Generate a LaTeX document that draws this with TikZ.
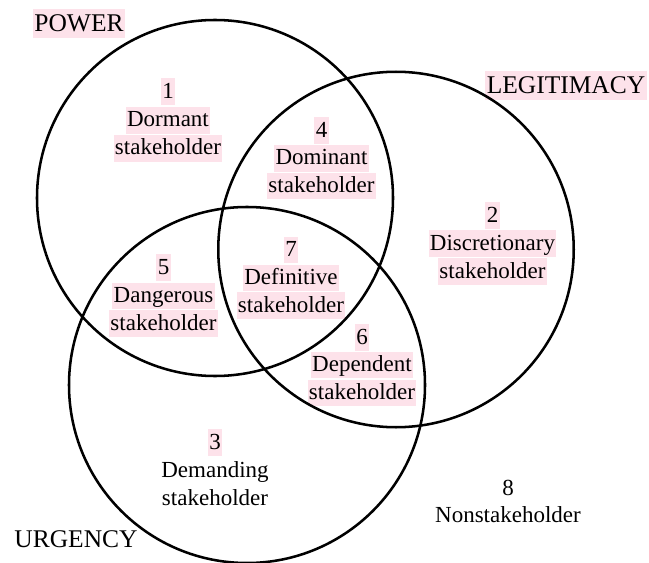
\documentclass[tikz,border=0pt]{standalone}
\usepackage{fontspec}
\setmainfont{Liberation Serif}
\definecolor{pinkbg}{RGB}{253,226,234}
\tikzset{
  bodytxt/.style={font=\fontsize{17.25}{21}\selectfont, anchor=base, inner sep=0pt, inner xsep=1pt},
  hl/.style={bodytxt, fill=pinkbg, text height=15pt, text depth=4.9pt},
  bigtxt/.style={font=\fontsize{19.1}{23}\selectfont, anchor=base, inner sep=0pt, inner xsep=1pt},
  bighl/.style={bigtxt, fill=pinkbg, text height=16.5pt, text depth=5pt},
  ring/.style={draw=black, line width=1.9pt}
}
\begin{document}
\begin{tikzpicture}[x=0.75pt, y=-0.75pt]
\useasboundingbox (0,0) rectangle (649,563);
% text first (circles drawn over)
\node[bighl] (power) at (79,31.5) {POWER};
\node[bighl] (legit) at (566,93.5) {LEGITIMACY};
\node[bigtxt] (urg) at (76,547.5) {URGENCY};

\node[hl] (n1a) at (168,98.5) {1};
\node[hl] (n1b) at (168,127) {Dormant};
\node[hl] (n1c) at (168,155) {stakeholder};

\node[hl] (n4a) at (321.5,137.5) {4};
\node[hl] (n4b) at (321.5,165) {Dominant};
\node[hl] (n4c) at (321.5,192.5) {stakeholder};

\node[hl] (n2a) at (492.5,222) {2};
\node[hl] (n2b) at (492.5,250) {Discretionary};
\node[hl] (n2c) at (492.5,278) {stakeholder};

\node[hl] (n7a) at (291,256.5) {7};
\node[hl] (n7b) at (291,284.5) {Definitive};
\node[hl] (n7c) at (291,312) {stakeholder};

\node[hl] (n5a) at (163.5,274) {5};
\node[hl] (n5b) at (163.5,302.5) {Dangerous};
\node[hl] (n5c) at (163.5,330) {stakeholder};

\node[hl] (n6a) at (362,344) {6};
\node[hl] (n6b) at (362,371.5) {Dependent};
\node[hl] (n6c) at (362,399.5) {stakeholder};

\node[hl] (n3a) at (215,449) {3};
\node[bodytxt] (n3b) at (215,477.5) {Demanding};
\node[bodytxt] (n3c) at (215,505.5) {stakeholder};

\node[bodytxt] (n8a) at (508,495) {8};
\node[bodytxt] (n8b) at (508,522.5) {Nonstakeholder};

% circles
\draw[ring] (215,198) circle[radius=133.5pt];
\draw[ring] (396,249.5) circle[radius=133.3pt];
\draw[ring] (247,385) circle[radius=133.5pt];
\end{tikzpicture}
\end{document}
